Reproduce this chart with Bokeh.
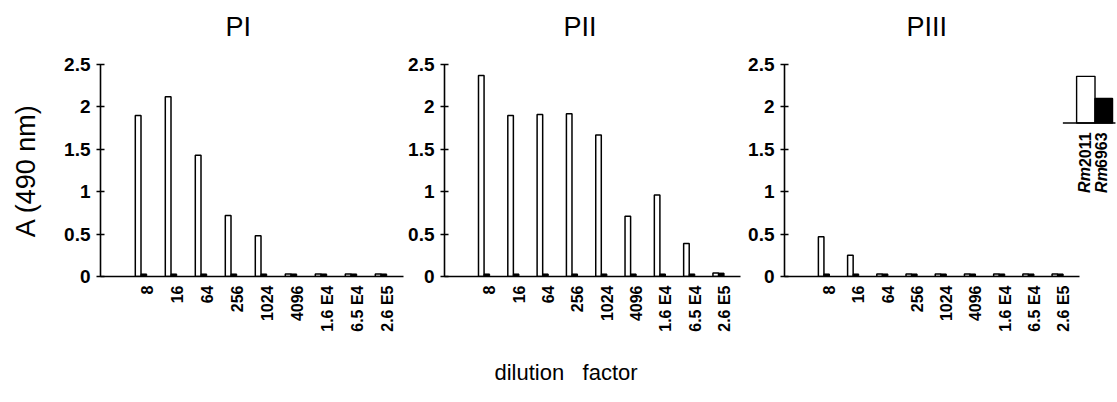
import math
from bokeh.plotting import figure
from bokeh.models import Range1d, FixedTicker, Title
from bokeh.layouts import row
from bokeh.embed import file_html
from bokeh.resources import INLINE
from bokeh.core.properties import value

# ---- data ----
dilution_labels = ["8", "16", "64", "256", "1024", "4096", "1.6 E4", "6.5 E4", "2.6 E5"]
positions = [1, 2, 3, 4, 5, 6, 7, 8, 9]

pI_rm2011 = [1.90, 2.12, 1.43, 0.72, 0.48, 0.03, 0.03, 0.03, 0.03]
pI_rm6963 = [0.03, 0.03, 0.03, 0.03, 0.03, 0.03, 0.03, 0.03, 0.03]
pII_rm2011 = [2.37, 1.90, 1.91, 1.92, 1.67, 0.71, 0.96, 0.39, 0.04]
pII_rm6963 = [0.03, 0.03, 0.03, 0.03, 0.03, 0.03, 0.03, 0.03, 0.04]
pIII_rm2011 = [0.47, 0.25, 0.03, 0.03, 0.03, 0.03, 0.03, 0.03, 0.03]
pIII_rm6963 = [0.03, 0.03, 0.03, 0.03, 0.03, 0.03, 0.03, 0.03, 0.03]

panel_names = ["PI", "PII", "PIII"]
strain_names = ["Rm2011", "Rm6963"]
y_ticks = [0, 0.5, 1, 1.5, 2, 2.5]
y_tick_labels = ["0", "0.5", "1", "1.5", "2", "2.5"]

FONT = "Liberation Sans"
BAR_W = 0.19


def spacer(size):
    return Title(text=" ", text_font_size=size, text_font=FONT)


def make_panel(name, white, black, width, left, right, top, bottom, x_end, ylabel, title_offset):
    p = figure(width=width, height=402, x_range=Range1d(-0.35, x_end),
               y_range=Range1d(0, 2.5), output_backend="svg", toolbar_location=None,
               min_border_left=left, min_border_right=right, min_border_top=top,
               min_border_bottom=bottom)
    p.outline_line_color = None
    p.grid.visible = False
    p.background_fill_color = "white"
    p.border_fill_color = "white"

    p.add_layout(spacer("6px"), "above")
    p.add_layout(Title(text=name, align="left", offset=title_offset, text_font_size="27px",
                       text_font_style="normal", text_font=FONT, text_color="black"), "above")

    xw = [x - BAR_W / 2 for x in positions]
    xb = [x + BAR_W / 2 for x in positions]
    p.vbar(x=xw, top=white, width=BAR_W, bottom=0, fill_color="white",
           line_color="black", line_width=1.5)
    p.vbar(x=xb, top=black, width=BAR_W, bottom=0, fill_color="black",
           line_color="black", line_width=1.0)

    xa = p.xaxis[0]
    xa.bounds = (-0.35, 9.75)
    tick_pos = [x + 0.2 for x in positions]
    xa.ticker = FixedTicker(ticks=tick_pos)
    xa.major_label_overrides = {t: lab for t, lab in zip(tick_pos, dilution_labels)}
    xa.major_label_orientation = math.pi / 2
    xa.major_tick_out = 0
    xa.major_tick_in = 0
    xa.minor_tick_out = 0
    xa.minor_tick_in = 0
    xa.major_label_standoff = 9
    xa.major_label_text_font = FONT
    xa.major_label_text_font_style = "bold"
    xa.major_label_text_font_size = "16px"
    xa.major_label_text_color = "black"
    xa.axis_line_width = 1.6
    xa.axis_line_color = "black"

    ya = p.yaxis[0]
    ya.ticker = FixedTicker(ticks=y_ticks)
    ya.major_label_overrides = {t: lab for t, lab in zip(y_ticks, y_tick_labels)}
    ya.major_tick_out = 4
    ya.major_tick_in = 4
    ya.minor_tick_out = 0
    ya.minor_tick_in = 0
    ya.major_tick_line_width = 1.4
    ya.major_label_standoff = 6
    ya.major_label_text_font = FONT
    ya.major_label_text_font_style = "bold"
    ya.major_label_text_font_size = "19px"
    ya.major_label_text_color = "black"
    ya.axis_line_width = 1.6
    ya.axis_line_color = "black"
    if ylabel:
        ya.axis_label = ylabel
        ya.axis_label_text_font = FONT
        ya.axis_label_text_font_style = "normal"
        ya.axis_label_text_font_size = "27px"
        ya.axis_label_standoff = 20
        ya.axis_label_text_color = "black"
    return p


p1 = make_panel(panel_names[0], pI_rm2011, pI_rm6963, 405, 100, 2, 64, 121, 9.75, "A (490 nm)", 125)
p2 = make_panel(panel_names[1], pII_rm2011, pII_rm6963, 340, 32, 5, 61, 124, 9.75, None, 119)
p3 = make_panel(panel_names[2], pIII_rm2011, pIII_rm6963, 372, 30, 0, 61, 126, 11.05, None, 122)

p2.add_layout(spacer("5px"), "below")
p2.add_layout(Title(text="dilution\u00a0\u00a0\u00a0factor", align="left", offset=50,
                    text_font_size="22px", text_font_style="normal", text_font=FONT,
                    text_color="black"), "below")

# ---- key (legend) in panel PIII ----
key_left = [9.65, 10.28]
key_right = [10.28, 10.88]
key_base = 1.81
key_tops = [2.36, 2.10]
p3.quad(left=key_left, right=key_right, bottom=[key_base, key_base], top=key_tops,
        fill_color=["white", "black"], line_color="black", line_width=1.4)
p3.segment(x0=[9.18], y0=[key_base], x1=[10.98], y1=[key_base], line_color="black", line_width=1.5)
key_text_x = [9.93, 10.50]
key_text_top = 1.70
p3.text(x=key_text_x, y=[key_text_top, key_text_top], text=[s[2:] for s in strain_names],
        angle=math.pi / 2, text_align="right", text_baseline="middle",
        text_font=value(FONT), text_font_style="bold", text_font_size="16px", text_color="black")
p3.text(x=key_text_x, y=[key_text_top - 0.41, key_text_top - 0.41], text=[s[:2] for s in strain_names],
        angle=math.pi / 2, text_align="right", text_baseline="middle",
        text_font=value(FONT), text_font_style="bold italic", text_font_size="16px", text_color="black")

layout = row(p1, p2, p3)
open("out.html", "w").write(file_html(layout, INLINE))
